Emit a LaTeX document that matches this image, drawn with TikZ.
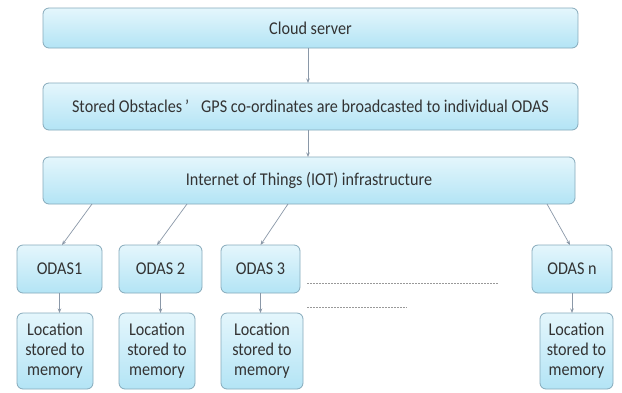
\documentclass[tikz,border=0pt]{standalone}
\usepackage{fontspec}
\setmainfont{Carlito}[FakeStretch=0.9]
\usetikzlibrary{arrows.meta}
\definecolor{boxtop}{HTML}{E4F6FC}
\definecolor{boxbot}{HTML}{B3E4F5}
\definecolor{boxline}{HTML}{86AABB}
\definecolor{arrowc}{HTML}{8A98A8}
\definecolor{txt}{HTML}{333333}
\begin{document}
\begin{tikzpicture}[x=1pt,y=-1pt,
  box/.style={draw=boxline, line width=0.8pt, rounded corners=6pt,
    top color=boxtop, bottom color=boxbot, inner sep=0pt, outer sep=0pt,
    text=txt, font=\fontsize{18}{20}\selectfont, align=center},
  conn/.style={draw=arrowc, line width=0.7pt, -{Stealth[length=4.5pt,width=3.5pt]}},
  dots/.style={draw=gray!80, line width=0.6pt, dash pattern=on 1.5pt off 1.5pt}]
\useasboundingbox (0,0) rectangle (622,392);
\fill[white] (0,0) rectangle (622,392);
\node[box, minimum width=535pt, minimum height=40pt] (cloud) at (310.5,28) {Cloud server};
\node[box, minimum width=535pt, minimum height=47pt] (gps) at (310.5,106.5) {Stored Obstacles\,’\hspace{12pt}GPS co-ordinates are broadcasted to individual ODAS};
\node[box, minimum width=532pt, minimum height=47pt] (iot) at (309,180.5) {Internet of Things (IOT) infrastructure};
\node[box, minimum width=85pt, minimum height=48pt] (o1) at (59.5,269) {ODAS1};
\node[box, minimum width=83pt, minimum height=48pt] (o2) at (160.5,269) {ODAS 2};
\node[box, minimum width=79pt, minimum height=48pt] (o3) at (260.5,269) {ODAS 3};
\node[box, minimum width=80pt, minimum height=48pt] (on) at (572,269) {ODAS n};
\node[box, minimum width=76pt, minimum height=76pt] (l1) at (55,351) {Location\\stored to\\memory};
\node[box, minimum width=76pt, minimum height=76pt] (l2) at (157,351) {Location\\stored to\\memory};
\node[box, minimum width=82pt, minimum height=76pt] (l3) at (262,351) {Location\\stored to\\memory};
\node[box, minimum width=73pt, minimum height=76pt] (ln) at (576.5,351) {Location\\stored to\\memory};
% connectors
\draw[conn] ([xshift=-2.5pt]cloud.south) -- ([xshift=-2.5pt]cloud.south |- gps.north);
\draw[conn] ([xshift=-2.5pt]gps.south) -- ([xshift=-2.5pt]gps.south |- iot.north);
\coordinate (s1) at (92,204);
\coordinate (s2) at (187,204);
\coordinate (s3) at (288,204);
\coordinate (sn) at (547,204);
\draw[conn] (s1) -- ([xshift=2.5pt]o1.north);
\draw[conn] (s2) -- ([xshift=-3.5pt]o2.north);
\draw[conn] (s3) -- (o3.north);
\draw[conn] (sn) -- ([xshift=-2pt]on.north);
\draw[conn] (o1.south) -- (o1.south |- l1.north);
\draw[conn] (o2.south) -- (o2.south |- l2.north);
\draw[conn] (o3.south) -- (o3.south |- l3.north);
\draw[conn] (on.south) -- (on.south |- ln.north);
% dotted lines
\coordinate (d1a) at (307,283);
\coordinate (d1b) at (498,283);
\coordinate (d2a) at (307,307);
\coordinate (d2b) at (407,307);
\draw[dots] (d1a) -- (d1b);
\draw[dots] (d2a) -- (d2b);
\end{tikzpicture}
\end{document}
